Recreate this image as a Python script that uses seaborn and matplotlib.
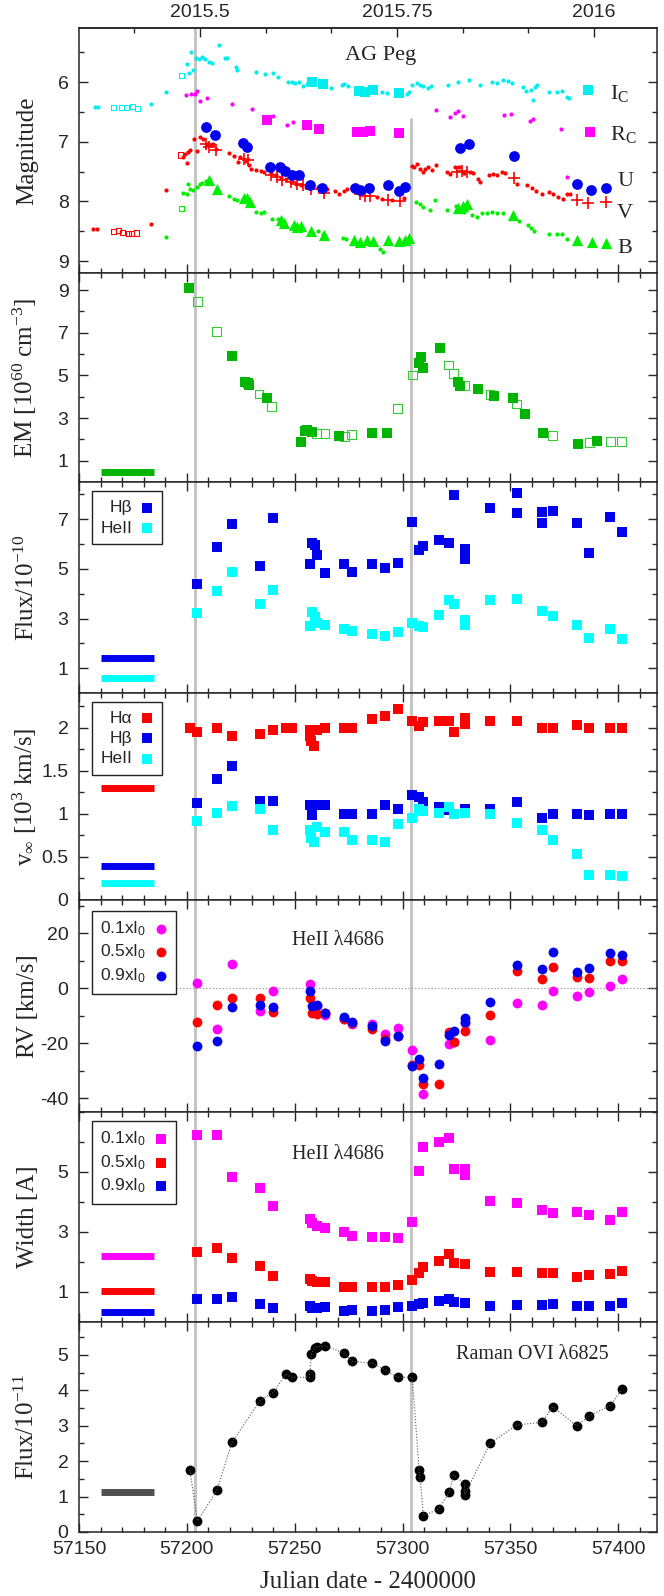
import numpy as np
import matplotlib
matplotlib.use("Agg")
import matplotlib.pyplot as plt
import seaborn as sns
from matplotlib.ticker import MultipleLocator, FixedLocator, FormatStrFormatter

# ---------------- data ----------------
# panel 1: photometry (JD - 2400000, magnitude)
ic_jd = [57157.5, 57158.6, 57183.4, 57190.4, 57200.1, 57201.1, 57202.0, 57203.0, 57204.3, 57205.7,
         57206.9, 57208.2, 57210.5, 57211.6, 57215.1, 57217.5, 57218.4, 57223.0, 57223.2, 57232.3,
         57236.1, 57239.9, 57242.1, 57246.7, 57248.7, 57250.3, 57251.8, 57253.7, 57255.7, 57267.0,
         57271.9, 57272.7, 57274.7, 57290.4, 57292.7, 57302.0, 57302.8, 57304.3, 57306.6, 57308.2,
         57309.7, 57311.6, 57313.1, 57321.3, 57325.9, 57331.0, 57335.7, 57341.4, 57343.7, 57346.8,
         57349.1, 57350.7, 57355.8, 57357.3, 57359.5, 57360.7, 57361.5, 57362.3, 57367.7, 57371.5,
         57373.8, 57376.2, 57377.4]
ic_mag = [6.41, 6.41, 6.36, 6.16, 5.69, 5.84, 5.50, 5.79, 5.59, 5.61,
          5.57, 5.61, 5.66, 5.68, 5.38, 5.59, 5.60, 5.74, 5.79, 5.82,
          5.87, 5.85, 5.92, 5.99, 6.00, 6.01, 6.00, 6.06, 6.03, 6.10,
          6.04, 6.03, 6.06, 6.17, 6.18, 6.20, 6.17, 6.04, 6.01, 6.05,
          6.07, 6.10, 6.07, 6.04, 6.00, 5.97, 6.04, 5.99, 6.02, 5.97,
          5.98, 6.01, 6.08, 6.15, 6.13, 6.29, 6.08, 6.04, 6.16, 6.17,
          6.14, 6.25, 6.26]
ic_open_jd = [57166.0, 57169.8, 57172.2, 57174.8, 57177.1, 57197.5]
ic_open_mag = [6.42, 6.43, 6.43, 6.41, 6.44, 5.89]
ic_big_jd = [57258.0, 57263.1, 57279.6, 57282.7, 57286.2, 57298.6, 57386.2]
ic_big_mag = [5.99, 6.03, 6.14, 6.16, 6.13, 6.18, 6.13]

rc_jd = [57199.7, 57201.8, 57203.8, 57204.9, 57206.1, 57209.5, 57220.8, 57230.1, 57240.1, 57246.6,
         57249.0, 57315.6, 57321.8, 57324.4, 57325.5, 57328.0, 57346.9, 57350.3, 57359.2, 57360.5,
         57373.4, 57376.2]
rc_mag = [6.22, 6.20, 6.20, 6.14, 6.32, 6.27, 6.36, 6.45, 6.57, 6.71,
          6.67, 6.47, 6.59, 6.52, 6.49, 6.56, 6.55, 6.53, 6.65, 6.61,
          6.78, 7.59]
rc_big_jd = [57237.4, 57255.6, 57261.5, 57278.8, 57281.9, 57285.0, 57298.6, 57387.0]
rc_big_mag = [6.63, 6.72, 6.78, 6.84, 6.84, 6.82, 6.85, 6.83]

v_jd = [57156.7, 57158.2, 57183.4, 57190.4, 57198.0, 57199.0, 57200.0, 57200.6, 57201.5, 57203.3,
        57204.9, 57206.1, 57207.7, 57209.2, 57211.1, 57212.3, 57213.6, 57219.6, 57221.9, 57223.5,
        57224.7, 57227.3, 57228.9, 57229.7, 57232.0, 57234.3, 57235.9, 57238.9, 57241.2, 57243.6,
        57245.9, 57248.2, 57250.5, 57252.8, 57255.2, 57257.5, 57260.6, 57265.2, 57268.6, 57270.6,
        57273.0, 57274.2, 57288.0, 57290.5, 57295.0, 57300.5, 57304.3, 57305.4, 57306.6, 57308.2,
        57309.4, 57310.5, 57312.0, 57313.6, 57315.6, 57320.8, 57321.8, 57324.4, 57326.0, 57328.3,
        57331.1, 57332.9, 57334.8, 57335.7, 57339.9, 57341.9, 57343.7, 57346.0, 57347.6, 57353.0,
        57357.9, 57359.9, 57361.9, 57364.6, 57367.7, 57370.0, 57372.3, 57374.3, 57376.2, 57377.7]
v_mag = [8.46, 8.46, 8.38, 7.80, 7.26, 7.20, 7.36, 7.17, 7.13, 6.95,
         7.16, 6.92, 6.95, 7.04, 7.06, 7.03, 7.12, 7.19, 7.24, 7.33,
         7.26, 7.32, 7.39, 7.46, 7.48, 7.49, 7.50, 7.53, 7.56, 7.60,
         7.63, 7.67, 7.70, 7.73, 7.76, 7.73, 7.76, 7.79, 7.82, 7.87,
         7.82, 7.79, 7.93, 7.96, 7.97, 7.95, 7.40, 7.42, 7.37, 7.45,
         7.50, 7.45, 7.42, 7.47, 7.38, 7.50, 7.54, 7.42, 7.42, 7.52,
         7.50, 7.53, 7.63, 7.67, 7.55, 7.54, 7.55, 7.50, 7.52, 7.70,
         7.73, 7.77, 7.82, 7.87, 7.84, 7.88, 7.93, 7.96, 7.87, 7.88]
v_open_jd = [57166.0, 57168.3, 57170.3, 57172.9, 57174.5, 57176.8, 57197.0]
v_open_mag = [8.51, 8.49, 8.52, 8.54, 8.54, 8.53, 7.22]
v_plus_jd = [57208.8, 57210.3, 57213.4, 57226.5, 57228.5, 57239.1, 57241.9, 57244.2, 57248.5, 57251.2,
             57254.0, 57257.5, 57263.4, 57280.4, 57282.7, 57285.0, 57293.5, 57298.9, 57325.2, 57327.5,
             57329.8, 57351.5, 57380.8, 57386.2, 57394.4]
v_plus_mag = [7.03, 7.08, 7.13, 7.28, 7.31, 7.55, 7.59, 7.64, 7.67, 7.70,
              7.73, 7.79, 7.85, 7.87, 7.91, 7.91, 7.98, 8.00, 7.50, 7.49,
              7.50, 7.61, 7.98, 8.03, 8.01]

u_jd = [57209.1, 57213.0, 57226.1, 57227.9, 57238.7, 57243.0, 57245.4, 57248.9, 57252.0, 57257.0,
        57262.8, 57278.0, 57280.4, 57284.3, 57293.5, 57298.6, 57301.3, 57326.8, 57330.6, 57351.5,
        57380.8, 57387.3, 57394.4]
u_mag = [6.75, 6.89, 7.02, 7.08, 7.42, 7.43, 7.49, 7.55, 7.55, 7.72,
         7.77, 7.78, 7.81, 7.78, 7.72, 7.82, 7.75, 7.10, 7.03, 7.23,
         7.70, 7.80, 7.77]

b_jd = [57190.4, 57198.4, 57199.9, 57200.7, 57201.5, 57203.0, 57204.6, 57206.1, 57207.2, 57209.0,
        57219.6, 57221.9, 57223.1, 57232.0, 57234.3, 57235.9, 57239.7, 57242.1, 57245.1, 57249.8,
        57251.3, 57252.8, 57260.6, 57263.0, 57272.2, 57273.8, 57277.6, 57289.6, 57290.9, 57306.4,
        57308.2, 57309.7, 57312.8, 57315.1, 57320.8, 57324.7, 57328.3, 57332.1, 57334.5, 57336.8,
        57339.1, 57341.4, 57343.7, 57346.8, 57354.1, 57358.0, 57359.5, 57361.0, 57367.7, 57371.5,
        57373.8, 57376.2]
b_mag = [8.59, 7.86, 7.87, 7.70, 7.79, 7.80, 7.76, 7.70, 7.69, 7.65,
         7.90, 7.96, 7.98, 8.18, 8.20, 8.18, 8.29, 8.30, 8.34, 8.43,
         8.46, 8.48, 8.50, 8.54, 8.61, 8.63, 8.67, 8.79, 8.84, 8.01,
         8.04, 8.09, 8.15, 7.98, 8.15, 8.07, 8.18, 8.23, 8.26, 8.20,
         8.19, 8.18, 8.20, 8.19, 8.33, 8.40, 8.44, 8.50, 8.54, 8.55,
         8.54, 8.63]
b_open_jd = [57197.6]
b_open_mag = [8.12]
b_tri_jd = [57210.3, 57213.8, 57226.5, 57228.0, 57229.3, 57243.6, 57245.1, 57249.5, 57251.3, 57252.8,
            57257.5, 57263.4, 57277.5, 57280.4, 57283.4, 57286.5, 57293.5, 57298.6, 57301.3, 57302.8,
            57325.9, 57328.0, 57329.8, 57351.2, 57380.8, 57387.8, 57394.4]
b_tri_mag = [7.64, 7.79, 7.94, 7.95, 8.01, 8.31, 8.36, 8.40, 8.43, 8.41,
             8.49, 8.56, 8.64, 8.68, 8.65, 8.66, 8.65, 8.66, 8.64, 8.61,
             8.11, 8.07, 8.04, 8.23, 8.64, 8.68, 8.70]

# panel 2: emission measure
em_jd = [57200.8, 57220.9, 57227.2, 57228.2, 57229.0, 57237.1, 57252.9, 57254.8, 57255.6, 57258.2,
         57270.4, 57285.8, 57292.7, 57307.5, 57308.5, 57309.5, 57317.6, 57325.6, 57326.6, 57335.1,
         57342.4, 57351.1, 57356.6, 57365.3, 57381.5, 57390.3]
em_val = [9.08, 5.91, 4.71, 4.63, 4.55, 3.93, 1.86, 2.40, 2.45, 2.34,
          2.14, 2.32, 2.32, 5.60, 5.88, 5.33, 6.27, 4.71, 4.48, 4.35,
          4.04, 3.93, 3.20, 2.29, 1.79, 1.90]
em_open_jd = [57204.9, 57213.8, 57233.5, 57239.4, 57260.2, 57264.1, 57273.0, 57276.5, 57297.8, 57304.5,
              57321.5, 57323.7, 57328.8, 57340.6, 57352.9, 57369.6, 57386.6, 57396.4, 57401.6]
em_open_val = [8.45, 7.05, 4.13, 3.54, 2.29, 2.26, 2.14, 2.21, 3.46, 5.02,
               5.49, 5.10, 4.51, 4.09, 3.66, 2.18, 1.85, 1.90, 1.90]
em_quiet = 0.45

# panel 3: line fluxes
hb_jd = [57204.9, 57214.0, 57220.9, 57233.9, 57240.0, 57257.0, 57258.2, 57259.2, 57260.2, 57264.1,
         57273.0, 57276.5, 57285.8, 57291.7, 57297.8, 57304.5, 57307.7, 57309.7, 57316.8, 57321.7,
         57323.7, 57328.8, 57328.8, 57340.6, 57352.9, 57352.9, 57364.7, 57364.7, 57369.6, 57380.7,
         57386.6, 57396.4, 57401.6]
hb_flux = [4.40, 5.88, 6.80, 5.11, 7.04, 5.21, 6.06, 5.96, 5.56, 4.84,
           5.21, 4.88, 5.21, 5.05, 5.25, 6.89, 5.75, 5.92, 6.18, 6.03,
           7.98, 5.79, 5.41, 7.44, 8.04, 7.27, 7.30, 6.85, 7.34, 6.85,
           5.63, 7.09, 6.49]
he_jd = [57204.9, 57214.0, 57220.9, 57233.9, 57240.0, 57257.0, 57258.2, 57259.2, 57260.2, 57264.1,
         57273.0, 57276.5, 57285.8, 57291.7, 57297.8, 57304.5, 57307.7, 57309.7, 57316.8, 57321.7,
         57323.7, 57328.8, 57328.8, 57340.6, 57352.9, 57364.7, 57369.6, 57380.7, 57386.6, 57396.4,
         57401.6]
he_flux = [3.23, 4.10, 4.88, 3.60, 4.13, 2.71, 3.27, 3.05, 2.82, 2.75,
           2.58, 2.51, 2.39, 2.30, 2.44, 2.82, 2.69, 2.65, 3.16, 3.73,
           3.59, 2.94, 2.73, 3.73, 3.77, 3.32, 3.09, 2.73, 2.22, 2.59,
           2.19]
flux_quiet = [1.4, 0.6]

# panel 4: terminal velocities (10^3 km/s)
ha_v_jd = [57201.4, 57204.9, 57214.0, 57220.9, 57233.9, 57240.0, 57245.8, 57248.9, 57257.0, 57257.0,
           57257.8, 57258.8, 57260.2, 57264.1, 57273.0, 57276.5, 57285.8, 57291.7, 57297.8, 57304.5,
           57307.7, 57309.7, 57316.8, 57321.7, 57323.7, 57328.8, 57328.8, 57340.6, 57352.9, 57364.7,
           57369.6, 57380.7, 57386.6, 57396.4, 57401.6]
ha_v = [2.00, 1.95, 2.00, 1.90, 1.93, 1.97, 2.00, 2.00, 1.97, 1.90,
        1.84, 1.79, 1.97, 2.00, 2.00, 2.00, 2.10, 2.13, 2.21, 2.08,
        2.02, 2.06, 2.08, 2.08, 1.95, 2.11, 2.04, 2.08, 2.08, 2.00,
        2.00, 2.03, 2.00, 2.00, 2.00]
hb_v_jd = [57204.9, 57214.0, 57220.9, 57233.9, 57240.0, 57257.0, 57258.2, 57258.8, 57260.2, 57264.1,
           57273.0, 57276.5, 57285.8, 57291.7, 57297.8, 57304.5, 57307.7, 57309.7, 57316.8, 57321.7,
           57328.8, 57340.6, 57352.9, 57364.7, 57369.6, 57380.7, 57386.6, 57396.4, 57401.6]
hb_v = [1.12, 1.40, 1.55, 1.15, 1.15, 1.10, 0.99, 1.10, 1.10, 1.10,
        1.00, 1.00, 1.00, 1.10, 1.05, 1.22, 1.20, 1.14, 1.08, 1.04,
        1.06, 1.06, 1.14, 0.95, 1.00, 1.00, 0.98, 1.00, 1.00]
he_v_jd = [57204.9, 57214.0, 57220.9, 57233.9, 57240.0, 57257.0, 57257.8, 57258.8, 57260.2, 57264.1,
           57273.0, 57276.5, 57285.8, 57291.7, 57297.8, 57304.5, 57307.7, 57309.7, 57316.8, 57321.7,
           57323.7, 57328.8, 57340.6, 57352.9, 57364.7, 57369.6, 57380.7, 57386.6, 57396.4, 57401.6]
he_v = [0.92, 1.01, 1.09, 1.05, 0.81, 0.81, 0.72, 0.67, 0.85, 0.79,
        0.79, 0.70, 0.70, 0.67, 0.88, 0.95, 1.06, 1.03, 1.01, 1.08,
        1.00, 1.01, 1.00, 0.89, 0.81, 0.70, 0.53, 0.29, 0.29, 0.28]
v_quiet = [1.3, 0.4, 0.2]

# panel 5: HeII 4686 radial velocities
rv1_jd = [57204.9, 57214.0, 57220.9, 57233.9, 57240.0, 57257.0, 57258.4, 57260.2, 57264.1, 57273.0,
          57276.5, 57285.8, 57291.7, 57297.8, 57304.5, 57309.7, 57321.7, 57323.7, 57328.8, 57340.6,
          57352.9, 57364.7, 57369.6, 57380.7, 57386.6, 57396.4, 57401.6]
rv1 = [2.0, -14.7, 8.7, -8.4, -1.0, 1.6, -6.0, -6.6, -9.9, -11.3,
       -13.1, -13.1, -16.5, -14.4, -22.3, -38.4, -20.4, -19.7, -12.5, -18.9,
       -5.4, -6.3, -1.0, -3.0, -1.4, 0.6, 3.2]
rv5_jd = [57204.9, 57214.0, 57220.9, 57233.9, 57240.0, 57257.0, 57258.2, 57260.2, 57264.1, 57273.0,
          57276.5, 57285.8, 57291.7, 57297.8, 57304.5, 57307.7, 57309.7, 57316.8, 57321.7, 57323.7,
          57328.8, 57340.6, 57352.9, 57364.7, 57369.6, 57380.7, 57386.6, 57396.4, 57401.6]
rv5 = [-12.3, -6.0, -3.5, -3.5, -8.7, -3.6, -9.0, -9.5, -9.2, -11.1,
       -12.5, -14.9, -18.5, -17.3, -27.8, -28.0, -35.0, -34.7, -16.1, -19.7,
       -15.5, -9.8, 6.2, 3.3, 7.5, 4.2, 3.6, 9.8, 9.9]
rv9_jd = [57204.9, 57214.0, 57220.9, 57233.9, 57240.0, 57257.0, 57258.2, 57260.2, 57264.1, 57273.0,
          57276.5, 57285.8, 57291.7, 57297.8, 57304.5, 57307.7, 57309.7, 57316.8, 57321.7, 57323.7,
          57328.8, 57328.8, 57340.6, 57352.9, 57364.7, 57369.6, 57380.7, 57386.6, 57396.4, 57401.6]
rv9 = [-21.1, -19.1, -6.9, -6.0, -6.8, -1.0, -6.6, -6.0, -9.2, -10.4,
       -12.2, -13.7, -19.1, -17.5, -28.4, -25.9, -32.5, -27.7, -17.1, -15.5,
       -10.7, -12.3, -5.0, 8.4, 6.9, 13.1, 6.0, 7.2, 12.8, 11.9]

# panel 6: HeII 4686 widths
wd_jd = [57204.9, 57214.0, 57220.9, 57233.9, 57240.0, 57257.0, 57258.2, 57260.2, 57264.1, 57273.0,
         57276.5, 57285.8, 57291.7, 57297.8, 57304.5, 57307.7, 57309.7, 57316.8, 57321.7, 57323.7,
         57328.8, 57328.8, 57340.6, 57352.9, 57364.7, 57369.6, 57380.7, 57386.6, 57396.4, 57401.6]
wd1 = [6.23, 6.25, 4.82, 4.47, 3.86, 3.43, 3.29, 3.21, 3.14, 2.99,
       2.88, 2.85, 2.85, 2.81, 3.34, 5.05, 5.84, 5.99, 6.14, 5.11,
       5.11, 4.91, 4.03, 3.98, 3.73, 3.65, 3.68, 3.57, 3.40, 3.66]
wd5 = [2.33, 2.47, 2.13, 1.88, 1.54, 1.45, 1.38, 1.35, 1.34, 1.18,
       1.16, 1.16, 1.18, 1.25, 1.40, 1.64, 1.84, 2.05, 2.27, 1.96,
       1.92, 1.94, 1.66, 1.68, 1.64, 1.62, 1.51, 1.57, 1.59, 1.69]
wd9 = [0.77, 0.77, 0.82, 0.59, 0.47, 0.52, 0.47, 0.47, 0.49, 0.36,
       0.41, 0.37, 0.40, 0.49, 0.52, 0.59, 0.64, 0.70, 0.77, 0.68,
       0.65, 0.63, 0.54, 0.57, 0.58, 0.59, 0.52, 0.52, 0.52, 0.65]
wd_quiet = [2.2, 1.05, 0.35]

# panel 7: Raman OVI 6825 flux
ram_jd = [57201.4, 57204.9, 57214.0, 57220.9, 57233.9, 57240.0, 57245.8, 57248.9, 57257.0, 57257.0,
          57257.8, 57259.2, 57260.2, 57264.1, 57273.0, 57276.5, 57285.8, 57291.7, 57297.8, 57304.5,
          57307.7, 57308.1, 57309.7, 57316.8, 57321.7, 57323.7, 57328.8, 57328.8, 57328.8, 57340.6,
          57352.9, 57364.7, 57369.6, 57380.7, 57386.6, 57396.4, 57401.6]
ram_flux = [1.76, 0.31, 1.18, 2.53, 3.71, 3.93, 4.45, 4.37, 4.37, 4.47,
            5.04, 5.20, 5.23, 5.26, 5.05, 4.82, 4.77, 4.58, 4.37, 4.37,
            1.76, 1.55, 0.46, 0.65, 1.12, 1.61, 1.36, 1.17, 1.05, 2.50,
            3.02, 3.10, 3.54, 3.00, 3.28, 3.57, 4.03]
ram_quiet = 1.12

quiet_span = [57160, 57185]          # quiescent level markers
outburst_jd = [57204, 57304]         # vertical grey lines

# ---------------- style ----------------
sns.set_style("ticks")
plt.rcParams['font.family'] = ['Liberation Sans', 'DejaVu Sans']
plt.rcParams['mathtext.fontset'] = 'custom'
plt.rcParams['mathtext.rm'] = 'Liberation Serif'
plt.rcParams['mathtext.it'] = 'Liberation Serif:italic'
plt.rcParams['mathtext.sf'] = 'Liberation Sans'
SERIF = ['Liberation Serif', 'DejaVu Serif']

CYAN = '#00eeee'
MAG = '#ff00ff'
RED = '#ff0000'
BLUE = '#0000ee'
GREEN = '#00ee00'
DGREEN = '#00b400'
LGREEN = '#33cc33'
GRAY = '#c4c4c4'

fig = plt.figure(figsize=(6.64, 15.96), dpi=100)
W, H = 664.0, 1596.0
left, right = 79.0, 657.0
edges = [28, 273, 482, 693, 900, 1112, 1322, 1532]
axes = []
for i in range(7):
    top, bot = edges[i], edges[i + 1]
    axes.append(fig.add_axes([left / W, 1 - bot / H, (right - left) / W, (bot - top) / H]))


def frame(ax, ylim, major, minor, label, labelx=-0.07):
    ax.set_xlim(57150, 57418)
    ax.set_ylim(*ylim)
    ax.xaxis.set_major_locator(MultipleLocator(50))
    ax.xaxis.set_minor_locator(MultipleLocator(10))
    ax.yaxis.set_major_locator(FixedLocator(major))
    ax.yaxis.set_minor_locator(MultipleLocator(minor))
    ax.yaxis.set_major_formatter(FormatStrFormatter('%g'))
    ax.tick_params(which='both', direction='in', top=True, right=True, width=1.0,
                   labelsize=14, labelbottom=False)
    ax.tick_params(axis='y', pad=7.5)
    ax.tick_params(axis='x', pad=6.5)
    ax.tick_params(which='major', length=6.5)
    ax.tick_params(which='minor', length=3.4)
    for s in ax.spines.values():
        s.set_linewidth(1.1)
    ax.set_xlabel('')
    ax.set_ylabel(label, fontsize=18, family=SERIF)
    ax.yaxis.set_label_coords(labelx, 0.5)


def quiet_bar(ax, y, color):
    ax.plot(quiet_span, [y, y], color=color, lw=5, solid_capstyle='butt', zorder=2)


def box_legend(ax, anchor):
    leg = ax.legend(loc='upper left', bbox_to_anchor=anchor, markerfirst=False, frameon=True,
                    fancybox=False, edgecolor='#222222', framealpha=1, fontsize=12.5,
                    handlelength=0.7, handletextpad=0.5, borderpad=0.5, labelspacing=0.3,
                    borderaxespad=0)
    leg.get_frame().set_linewidth(1.0)


def dots(ax, x, y, color, marker, s, **kw):
    sns.scatterplot(x=x, y=y, color=color, marker=marker, s=s, linewidth=0, ax=ax, **kw)


def open_sq(ax, x, y, color, s):
    sns.scatterplot(x=x, y=y, marker='s', s=s, fc='none', ec=color, linewidth=0.8, ax=ax)


# ---- panel 1: magnitudes ----
ax = axes[0]
ax.axvline(outburst_jd[0], color=GRAY, lw=2.2, zorder=0)
ax.vlines(outburst_jd[1], 6.6, 9.25, color=GRAY, lw=2.2, zorder=0)
dots(ax, ic_jd, ic_mag, CYAN, 'o', 9)
open_sq(ax, ic_open_jd, ic_open_mag, CYAN, 14)
dots(ax, ic_big_jd, ic_big_mag, CYAN, 's', 45)
dots(ax, rc_jd, rc_mag, MAG, 'o', 9)
dots(ax, rc_big_jd, rc_big_mag, MAG, 's', 45)
dots(ax, v_jd, v_mag, RED, 'o', 9)
open_sq(ax, v_open_jd, v_open_mag, RED, 14)
sns.scatterplot(x=v_plus_jd, y=v_plus_mag, color=RED, marker='+', s=80, linewidth=1.2, ax=ax)
dots(ax, u_jd, u_mag, BLUE, 'o', 60)
dots(ax, b_jd, b_mag, GREEN, 'o', 9)
open_sq(ax, b_open_jd, b_open_mag, GREEN, 14)
dots(ax, b_tri_jd, b_tri_mag, GREEN, '^', 65)
frame(ax, (9.2, 5.09), [6, 7, 8, 9], 0.5, 'Magnitude')
ax.tick_params(axis='x', which='both', top=False)
ax.text(57290, 5.55, 'AG Peg', family=SERIF, fontsize=16, ha='center', va='center')
ax.text(57396, 6.28, r'I$_\mathrm{C}$', family=SERIF, fontsize=16, ha='left', va='baseline')
ax.text(57396, 6.97, r'R$_\mathrm{C}$', family=SERIF, fontsize=16, ha='left', va='baseline')
ax.text(57399.5, 7.74, 'U', family=SERIF, fontsize=16, ha='left', va='baseline')
ax.text(57399.5, 8.27, 'V', family=SERIF, fontsize=16, ha='left', va='baseline')
ax.text(57399.5, 8.87, 'B', family=SERIF, fontsize=16, ha='left', va='baseline')


def jd2yr(x):
    return 2015.0 + (np.asarray(x) - 57023.5) / 365.25


def yr2jd(y):
    return 57023.5 + (np.asarray(y) - 2015.0) * 365.25


sec = ax.secondary_xaxis('top', functions=(jd2yr, yr2jd))
sec.set_xticks([2015.5, 2015.75, 2016.0])
sec.set_xticklabels(['2015.5', '2015.75', '2016'])
sec.xaxis.set_minor_locator(FixedLocator(2015.5 + np.arange(-1, 7) / 12.0))
sec.tick_params(which='both', direction='in', labelsize=14, width=1.0, pad=5)
sec.tick_params(which='major', length=6.5)
sec.tick_params(which='minor', length=3.4)
sec.spines['top'].set_linewidth(1.1)

# ---- panel 2: EM ----
ax = axes[1]
for v in outburst_jd:
    ax.axvline(v, color=GRAY, lw=2.2, zorder=0)
quiet_bar(ax, em_quiet, DGREEN)
open_sq(ax, em_open_jd, em_open_val, LGREEN, 40)
dots(ax, em_jd, em_val, DGREEN, 's', 60)
frame(ax, (0, 9.8), [1, 3, 5, 7, 9], 1, r'EM [10$^{60}$ cm$^{-3}$]')

# ---- panel 3: fluxes ----
ax = axes[2]
for v in outburst_jd:
    ax.axvline(v, color=GRAY, lw=2.2, zorder=0)
quiet_bar(ax, flux_quiet[0], BLUE)
quiet_bar(ax, flux_quiet[1], '#00ffff')
dots(ax, hb_jd, hb_flux, BLUE, 's', 42, label='Hβ')
dots(ax, he_jd, he_flux, '#00ffff', 's', 42, label='HeII')
frame(ax, (0, 8.5), [1, 3, 5, 7], 1, r'Flux/10$^{-10}$')
box_legend(ax, (0.022, 0.955))

# ---- panel 4: v_inf ----
ax = axes[3]
for v in outburst_jd:
    ax.axvline(v, color=GRAY, lw=2.2, zorder=0)
quiet_bar(ax, v_quiet[0], RED)
quiet_bar(ax, v_quiet[1], BLUE)
quiet_bar(ax, v_quiet[2], '#00ffff')
dots(ax, ha_v_jd, ha_v, RED, 's', 42, label='Hα')
dots(ax, hb_v_jd, hb_v, BLUE, 's', 42, label='Hβ')
dots(ax, he_v_jd, he_v, '#00ffff', 's', 42, label='HeII')
frame(ax, (0, 2.4), [0, 0.5, 1, 1.5, 2], 0.25, r'v$_\infty$ [10$^3$ km/s]')
box_legend(ax, (0.022, 0.958))

# ---- panel 5: RV ----
ax = axes[4]
for v in outburst_jd:
    ax.axvline(v, color=GRAY, lw=2.2, zorder=0)
ax.hlines(0, 57195, 57418, color='#999999', lw=0.9, linestyles=':', zorder=1)
dots(ax, rv1_jd, rv1, MAG, 'o', 50, label=r'0.1xI$_\mathsf{0}$')
dots(ax, rv5_jd, rv5, RED, 'o', 50, label=r'0.5xI$_\mathsf{0}$')
dots(ax, rv9_jd, rv9, BLUE, 'o', 50, label=r'0.9xI$_\mathsf{0}$')
frame(ax, (-45, 32), [-40, -20, 0, 20], 10, 'RV [km/s]')
box_legend(ax, (0.022, 0.95))
ax.text(57270, 17.3, 'HeII λ4686', family=SERIF, fontsize=14.5, ha='center', va='center')

# ---- panel 6: widths ----
ax = axes[5]
for v in outburst_jd:
    ax.axvline(v, color=GRAY, lw=2.2, zorder=0)
quiet_bar(ax, wd_quiet[0], MAG)
quiet_bar(ax, wd_quiet[1], RED)
quiet_bar(ax, wd_quiet[2], BLUE)
dots(ax, wd_jd, wd1, MAG, 's', 42, label=r'0.1xI$_\mathsf{0}$')
dots(ax, wd_jd, wd5, RED, 's', 42, label=r'0.5xI$_\mathsf{0}$')
dots(ax, wd_jd, wd9, BLUE, 's', 42, label=r'0.9xI$_\mathsf{0}$')
frame(ax, (0, 7), [1, 3, 5], 1, 'Width [A]')
box_legend(ax, (0.022, 0.957))
ax.text(57270, 5.57, 'HeII λ4686', family=SERIF, fontsize=14.5, ha='center', va='center')

# ---- panel 7: Raman OVI ----
ax = axes[6]
for v in outburst_jd:
    ax.axvline(v, color=GRAY, lw=2.2, zorder=0)
quiet_bar(ax, ram_quiet, '#505050')
sns.lineplot(x=ram_jd, y=ram_flux, estimator=None, sort=False, color='#555555', lw=0.8,
             linestyle=':', ax=ax)
dots(ax, ram_jd, ram_flux, 'black', 'o', 50)
frame(ax, (0, 5.93), [0, 1, 2, 3, 4, 5], 0.5, r'Flux/10$^{-11}$')
ax.tick_params(axis='x', labelbottom=True)
ax.set_xlabel('Julian date - 2400000', fontsize=18, family=SERIF, labelpad=9)
ax.text(57360, 5.0, 'Raman OVI λ6825', family=SERIF, fontsize=14.5, ha='center', va='center')

fig.savefig('out.png', dpi=100)
